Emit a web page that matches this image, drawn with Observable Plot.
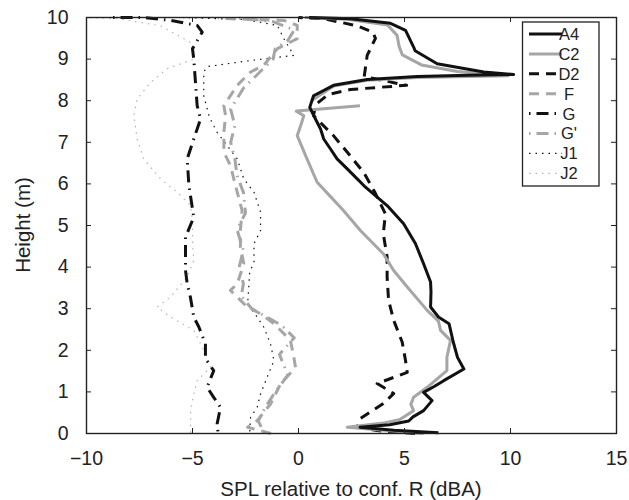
<!DOCTYPE html>
<html>
<head>
<meta charset="utf-8">
<script src="https://cdn.jsdelivr.net/npm/d3@7"></script>
<script src="https://cdn.jsdelivr.net/npm/@observablehq/plot@0.6"></script>
<style>
  html, body { margin: 0; padding: 0; background: #fff; }
  #chart { width: 629px; height: 500px; }
</style>
</head>
<body>
<div id="chart"></div>
<script>
// ---- data: [SPL relative to conf. R (dBA), height (m)] ----
const seriesNames = ["A4", "C2", "D2", "F", "G", "G'", "J1", "J2"];
const xTicks = [-10, -5, 0, 5, 10, 15];
const yTicks = [0, 1, 2, 3, 4, 5, 6, 7, 8, 9, 10];
const xLabel = "SPL relative to conf. R (dBA)";
const yLabel = "Height (m)";

const A4 = [[6.6,0.02],[4.5,0.08],[2.9,0.15],[4.3,0.21],[5.2,0.3],[5.4,0.4],[5.9,0.55],[6.3,0.79],[5.9,0.99],[6.4,1.13],[6.85,1.27],[7.8,1.55],[7.5,1.83],[7.3,2.2],[7.1,2.64],[6.6,2.8],[6.23,3.04],[6.25,3.4],[6.23,3.64],[5.9,4.08],[5.52,4.56],[4.96,5.04],[4.18,5.48],[3.71,5.68],[3.16,5.92],[2.77,6.12],[2.3,6.36],[1.82,6.6],[1.51,6.84],[1.19,7.08],[1.04,7.32],[0.8,7.56],[0.53,7.84],[0.71,8.12],[1.65,8.37],[3.24,8.51],[5.6,8.58],[8.0,8.61],[10.15,8.63],[8.74,8.69],[6.54,8.89],[5.5,9.2],[5.43,9.29],[5.05,9.69],[4.34,9.86],[2.45,9.97],[0.5,10.0]];
const C2 = [[5.9,0.0],[2.3,0.15],[4.0,0.25],[4.8,0.34],[5.43,0.55],[5.3,0.7],[5.43,0.87],[6.07,1.11],[7.0,1.51],[7.0,1.83],[7.17,2.24],[6.7,2.48],[6.6,2.7],[6.07,2.96],[5.13,3.52],[4.49,3.92],[4.0,4.32],[2.92,4.88],[2.12,5.36],[1.5,5.7],[0.88,6.04],[0.4,6.6],[-0.06,7.16],[0.1,7.4],[0.25,7.64],[-0.1,7.75],[2.9,7.88],[NaN,NaN],[0.6,8.0],[1.65,8.35],[3.24,8.49],[5.6,8.56],[9.9,8.6],[7.5,8.7],[5.8,8.86],[4.9,9.1],[4.75,9.3],[4.65,9.57],[4.2,9.82],[2.3,9.96],[0.3,10.0]];
const D2 = [[5.5,0.0],[3.7,0.07],[2.77,0.15],[2.92,0.36],[4.0,0.72],[4.49,0.96],[3.71,1.2],[5.13,1.47],[5.05,1.75],[4.89,2.2],[4.49,2.72],[4.25,3.2],[4.18,3.76],[4.18,4.24],[4.0,4.8],[4.1,5.28],[3.6,5.8],[3.07,6.28],[2.4,6.7],[1.65,7.16],[0.71,7.64],[0.8,7.9],[1.4,8.15],[2.45,8.27],[5.1,8.37],[3.1,8.58],[3.24,9.09],[3.63,9.5],[3.5,9.65],[2.77,9.8],[1.18,9.97],[0.0,10.0]];
const F = [[-1.3,0.0],[-2.4,0.15],[-1.95,0.31],[-1.32,0.71],[-0.85,1.19],[-0.14,1.59],[-0.22,1.83],[-0.38,2.24],[-1.16,2.64],[-1.79,2.88],[-2.42,3.04],[-3.21,3.44],[-2.89,3.6],[-2.58,4.08],[-2.74,4.48],[-2.74,4.88],[-2.66,5.36],[-2.89,5.8],[-3.21,6.44],[-3.52,6.76],[-3.52,7.24],[-3.44,7.64],[-3.52,7.88],[-2.89,8.37],[-2.26,8.69],[-1.64,8.85],[-1.0,9.25],[-0.06,9.49],[-0.06,9.81],[-0.69,9.93],[-3.8,9.98]];
const Gp = [[-1.6,0.0],[-1.9,0.3],[-1.6,0.6],[-1.1,1.0],[-0.5,1.4],[-0.9,1.9],[-0.2,2.3],[-0.8,2.6],[-1.5,2.8],[-2.2,3.0],[-2.7,3.3],[-2.6,3.6],[-2.8,4.0],[-2.6,4.4],[-2.9,4.9],[-2.5,5.3],[-2.6,5.8],[-2.9,6.2],[-3.0,6.6],[-3.2,7.0],[-3.0,7.4],[-3.2,7.8],[-2.6,8.3],[-2.0,8.6],[-1.2,9.0],[-1.1,9.25],[-0.5,9.45],[-0.2,9.7],[-1.2,9.9],[-3.0,10.0]];
const G = [[-3.8,0.05],[-3.84,0.23],[-3.68,0.63],[-4.0,0.87],[-4.31,1.11],[-4.0,1.51],[-4.39,1.8],[-4.39,2.16],[-4.7,2.56],[-4.94,2.8],[-5.1,3.28],[-5.25,3.6],[-5.33,3.92],[-5.33,4.72],[-4.94,5.2],[-5.17,5.96],[-5.25,6.6],[-4.94,7.08],[-4.62,7.56],[-4.78,7.88],[-4.86,8.44],[-4.94,9.0],[-5.0,9.25],[-4.54,9.65],[-4.78,9.81],[-6.04,9.93],[-7.3,10.0],[-9.0,10.0]];
const J1 = [[-2.3,0.05],[-2.26,0.39],[-1.95,0.63],[-1.79,0.95],[-1.48,1.35],[-1.16,1.75],[-1.32,2.16],[-1.64,2.56],[-1.95,2.8],[-2.4,3.1],[-2.35,3.5],[-2.3,3.9],[-2.1,4.1],[-2.1,4.56],[-1.79,4.88],[-1.79,5.32],[-2.1,5.8],[-2.58,6.12],[-2.89,6.6],[-3.36,6.92],[-3.84,7.24],[-4.2,7.6],[-4.47,8.12],[-4.47,8.69],[-4.3,8.82],[-2.5,8.95],[-0.22,9.09],[-0.69,9.49],[-1.0,9.81],[-2.5,9.95],[-5.5,10.0]];
const J2 = [[-5.09,0.02],[-5.09,0.55],[-4.94,0.95],[-4.78,1.27],[-4.15,1.59],[-4.47,2.0],[-4.94,2.48],[-6.04,2.8],[-6.67,3.04],[-6.04,3.28],[-5.25,3.76],[-4.94,4.16],[-5.0,4.6],[-5.0,5.1],[-5.09,5.48],[-5.72,5.8],[-6.51,6.12],[-7.3,6.6],[-7.61,7.08],[-7.77,7.64],[-7.61,8.04],[-6.98,8.44],[-6.19,8.77],[-4.94,9.0],[-5.1,9.4],[-6.5,9.8],[-8.5,9.97],[-10.0,10.0]];

const seriesData = [A4, C2, D2, F, G, Gp, J1, J2];

// ---- styles ----
const BLACK = "#111111", GRAY = "#a6a6a6", LIGHT = "#b4b4b4";
const styles = [
  {stroke: BLACK, width: 3, dash: null},
  {stroke: GRAY, width: 3, dash: null},
  {stroke: BLACK, width: 3, dash: "10,7"},
  {stroke: GRAY, width: 3, dash: "10,7"},
  {stroke: BLACK, width: 3, dash: "1.5,6,12,6"},
  {stroke: GRAY, width: 3, dash: "1.5,6,12,6"},
  {stroke: BLACK, width: 1.2, dash: "1.5,5"},
  {stroke: LIGHT, width: 1.2, dash: "1.5,5"}
];

const rows = seriesData.map((pts, i) => pts.map(([x, y]) => ({series: seriesNames[i], x, y})));

const W = 629, H = 500, mL = 86, mR = 13, mT = 17, mB = 67;
const innerH = H - mT - mB, innerW = W - mL - mR;
const TICK = 5;
const FONT = "'Liberation Sans', Arial, Helvetica, sans-serif";

const lineMarks = [];
for (let i = seriesData.length - 1; i >= 0; i--) {
  lineMarks.push(Plot.line(rows[i], {
    x: "x", y: "y", stroke: styles[i].stroke, strokeWidth: styles[i].width,
    strokeDasharray: styles[i].dash, strokeLinejoin: "round", strokeLinecap: "butt"
  }));
}

const chart = Plot.plot({
  width: W, height: H,
  marginLeft: mL, marginRight: mR, marginTop: mT, marginBottom: mB,
  x: {domain: [-10, 15]},
  y: {domain: [0, 10]},
  style: {fontFamily: FONT, fontSize: "19.5px", color: "#222", background: "#fff"},
  marks: [
    ...lineMarks,
    Plot.tickX(xTicks, {x: d => d, insetTop: innerH - TICK, stroke: "#222"}),
    Plot.tickX(xTicks, {x: d => d, insetBottom: innerH - TICK, stroke: "#222"}),
    Plot.tickY(yTicks, {y: d => d, insetRight: innerW - TICK, stroke: "#222"}),
    Plot.tickY(yTicks, {y: d => d, insetLeft: innerW - TICK, stroke: "#222"}),
    Plot.axisX({ticks: xTicks, tickSize: 0, tickPadding: 18, label: null, fontSize: 19.5}),
    Plot.axisY({ticks: yTicks, tickSize: 0, tickPadding: 18, label: null, fontSize: 19.5}),
    Plot.frame({stroke: "#222", strokeWidth: 1.4})
  ]
});
document.getElementById("chart").appendChild(chart);

// ---- axis titles and legend ----
const svg = d3.select(chart);
svg.append("text")
  .attr("x", mL + innerW / 2).attr("y", 495.5)
  .attr("text-anchor", "middle").attr("fill", "#222")
  .style("font-family", FONT).style("font-size", "20.5px")
  .text(xLabel);
svg.append("text")
  .attr("transform", `translate(29.5,${mT + innerH / 2}) rotate(-90)`)
  .attr("text-anchor", "middle").attr("fill", "#222")
  .style("font-family", FONT).style("font-size", "20.5px")
  .text(yLabel);

const lg = svg.append("g");
lg.append("rect").attr("x", 522.5).attr("y", 22).attr("width", 76.5).attr("height", 164)
  .attr("fill", "#fff").attr("stroke", "#222").attr("stroke-width", 1.3);
seriesNames.forEach((name, i) => {
  const yy = 34 + i * 19.9;
  lg.append("line").attr("x1", 529).attr("x2", 562).attr("y1", yy).attr("y2", yy)
    .attr("stroke", styles[i].stroke).attr("stroke-width", styles[i].width)
    .attr("stroke-dasharray", styles[i].dash);
  lg.append("text").attr("x", 569).attr("y", yy).attr("dy", "0.36em")
    .attr("fill", "#222").style("font-family", FONT).style("font-size", "16.5px")
    .text(name);
});
</script>
</body>
</html>
